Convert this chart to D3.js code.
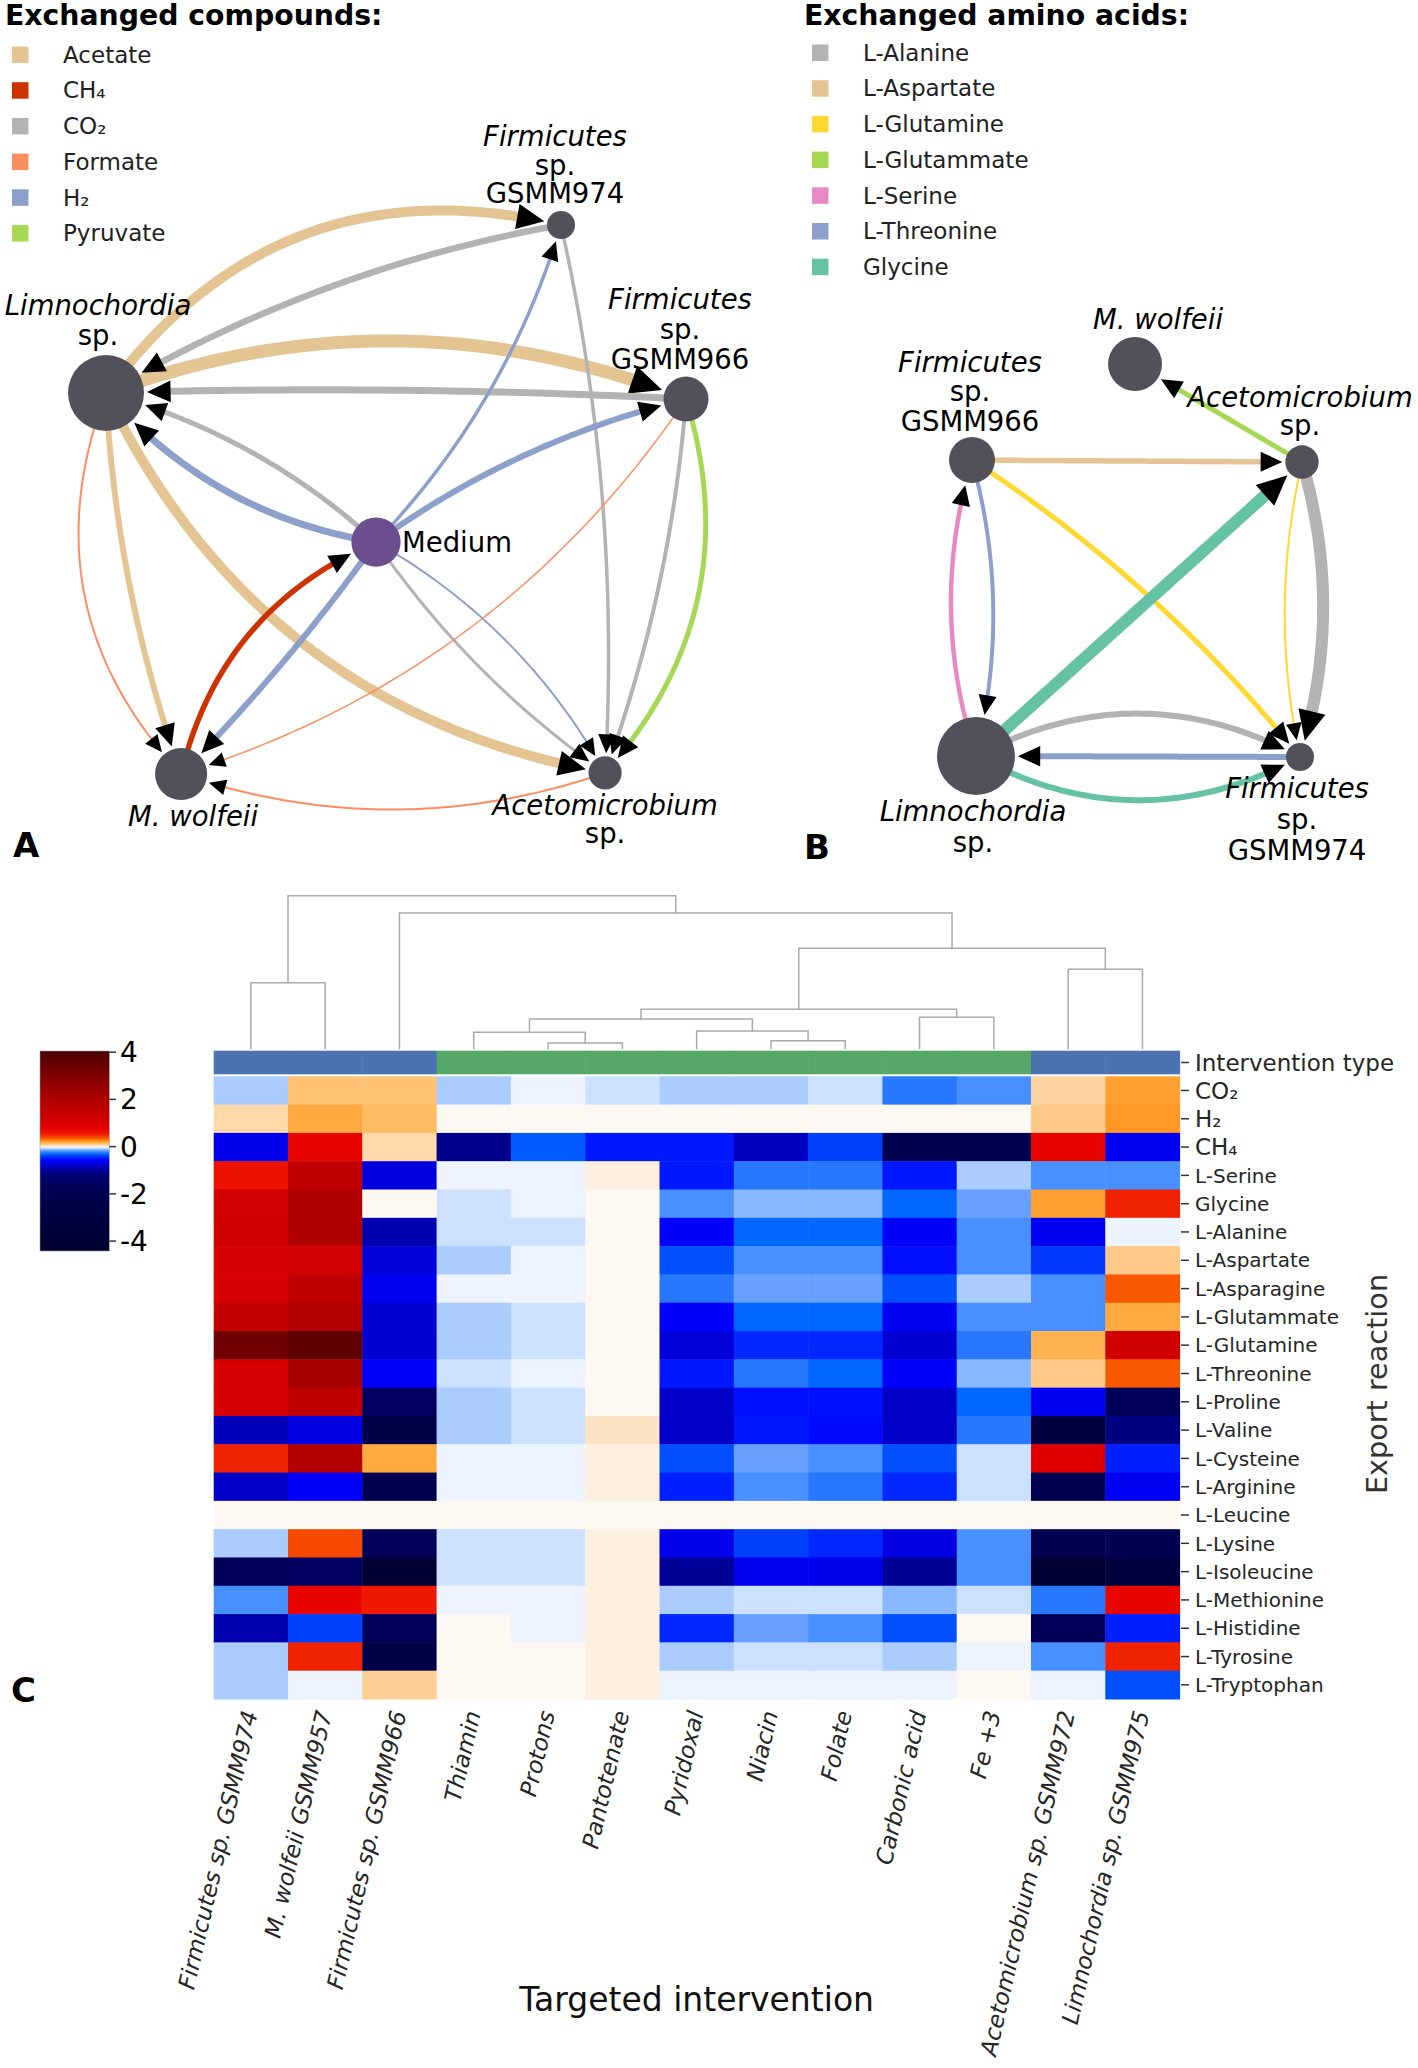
<!DOCTYPE html>
<html><head><meta charset="utf-8">
<script src="https://cdn.jsdelivr.net/npm/d3@7"></script>
<style>
body{margin:0;background:#fff}
svg{display:block}
text{font-family:"DejaVu Sans",sans-serif}
</style>
</head><body>
<svg id="fig" width="1418" height="2068"></svg>
<script>
// ---------------- DATA ----------------
const compounds = ["Acetate","CH\u2084","CO\u2082","Formate","H\u2082","Pyruvate"];
const compoundColors = ["#e5c494","#cc3300","#b3b3b3","#fc8d62","#8da0cb","#a6d854"];
const aminoAcids = ["L-Alanine","L-Aspartate","L-Glutamine","L-Glutammate","L-Serine","L-Threonine","Glycine"];
const aminoColors = ["#b3b3b3","#e5c494","#ffd92f","#a6d854","#e78ac3","#8da0cb","#66c2a5"];

// network A: layout coordinates (-1..1) and relative abundance
const nodesA = [
  {id:"Lim", x:-1.000, y:-0.388, size:100},
  {id:"F974", x:0.569, y:-1.000, size:13.6},
  {id:"F966", x:1.000, y:-0.366, size:35},
  {id:"Med", x:-0.069, y:0.155, size:42},
  {id:"Mw", x:-0.741, y:1.000, size:47},
  {id:"Ace", x:0.721, y:0.996, size:19}
];
// source, target, compound, flux, bend
const edgesA = [
  ["Lim","F974","Acetate",10,-0.33],
  ["Lim","F966","Acetate",13,-0.19],
  ["Lim","Mw","Acetate",6,0.072],
  ["Lim","Ace","Acetate",10,0.255],
  ["F974","Lim","CO\u2082",6.5,0.09],
  ["F966","Lim","CO\u2082",7,0.02],
  ["Med","Lim","CO\u2082",5,0.12],
  ["F974","Ace","CO\u2082",3.5,-0.07],
  ["F966","Ace","CO\u2082",4,-0.068],
  ["Med","Ace","CO\u2082",3,0.09],
  ["Med","F974","H\u2082",3.5,0.12],
  ["Med","F966","H\u2082",6,-0.097],
  ["Med","Lim","H\u2082",7,-0.18],
  ["Med","Mw","H\u2082",6,-0.04],
  ["Med","Ace","H\u2082",2,-0.14],
  ["Mw","Med","CH\u2084",5.5,-0.25],
  ["Lim","Mw","Formate",2,0.31],
  ["F966","Mw","Formate",1.5,-0.175],
  ["Ace","Mw","Formate",2,-0.17],
  ["F966","Ace","Pyruvate",5,-0.28]
];

// network B
const nodesB = [
  {id:"Mw", x:-0.012, y:-1.000, size:50.5},
  {id:"Ace", x:1.000, y:-0.501, size:19.3},
  {id:"F966", x:-1.000, y:-0.511, size:36.6},
  {id:"Lim", x:-0.976, y:0.995, size:105},
  {id:"F974", x:0.988, y:1.000, size:13.6}
];
const edgesB = [
  ["Ace","Mw","L-Glutammate",5,0],
  ["F966","Ace","L-Aspartate",5.5,0],
  ["F966","F974","L-Glutamine",5,-0.08],
  ["Lim","Ace","Glycine",12,0],
  ["Lim","F966","L-Serine",4.5,-0.155],
  ["F966","Lim","L-Threonine",4,-0.13],
  ["Ace","F974","L-Glutamine",2,0.11],
  ["Ace","F974","L-Alanine",12,-0.15],
  ["Lim","F974","L-Alanine",6,-0.265],
  ["F974","Lim","L-Threonine",6,0],
  ["Lim","F974","Glycine",6,0.27]
];

// heatmap
const interventions = ["Firmicutes sp. GSMM974","M. wolfeii GSMM957","Firmicutes sp. GSMM966","Thiamin","Protons","Pantotenate","Pyridoxal","Niacin","Folate","Carbonic acid","Fe +3","Acetomicrobium sp. GSMM972","Limnochordia sp. GSMM975"];
const interventionType = ["Organism","Organism","Organism","Metabolite","Metabolite","Metabolite","Metabolite","Metabolite","Metabolite","Metabolite","Metabolite","Organism","Organism"];
const exportReactions = ["CO\u2082","H\u2082","CH\u2084","L-Serine","Glycine","L-Alanine","L-Aspartate","L-Asparagine","L-Glutammate","L-Glutamine","L-Threonine","L-Proline","L-Valine","L-Cysteine","L-Arginine","L-Leucine","L-Lysine","L-Isoleucine","L-Methionine","L-Histidine","L-Tyrosine","L-Tryptophan"];
const heatValues = [
  [-0.1, 0.12, 0.12, -0.1, -0.02, -0.06, -0.1, -0.1, -0.06, -0.26, -0.2, 0.06, 0.2],
  [0.05, 0.18, 0.14, 0, 0, 0, 0, 0, 0, 0, 0, 0.1, 0.22],
  [-0.66, 0.75, 0.05, -1.07, -0.34, -0.5, -0.5, -0.83, -0.4, -2.0, -2.0, 0.75, -0.63],
  [0.62, 1.6, -0.71, -0.02, -0.02, 0.01, -0.5, -0.26, -0.26, -0.5, -0.1, -0.2, -0.2],
  [1.15, 2.0, 0, -0.06, -0.02, 0, -0.2, -0.13, -0.13, -0.32, -0.16, 0.2, 0.52],
  [1.2, 2.0, -0.9, -0.06, -0.06, 0, -0.58, -0.32, -0.32, -0.6, -0.2, -0.63, -0.02],
  [1.05, 1.15, -0.73, -0.1, -0.02, 0, -0.36, -0.2, -0.2, -0.53, -0.2, -0.42, 0.1],
  [1.05, 1.6, -0.63, -0.02, -0.02, 0, -0.26, -0.16, -0.16, -0.36, -0.1, -0.2, 0.35],
  [1.5, 1.9, -0.76, -0.1, -0.06, 0, -0.58, -0.32, -0.32, -0.63, -0.2, -0.2, 0.18],
  [3.3, 3.6, -0.76, -0.1, -0.06, 0, -0.73, -0.46, -0.46, -0.76, -0.26, 0.16, 1.2],
  [1.05, 2.25, -0.58, -0.06, -0.02, 0, -0.5, -0.26, -0.32, -0.58, -0.13, 0.1, 0.35],
  [1.05, 1.6, -1.5, -0.1, -0.06, 0, -0.8, -0.53, -0.53, -0.8, -0.32, -0.63, -1.75],
  [-0.86, -0.7, -2.5, -0.1, -0.06, 0.03, -0.8, -0.5, -0.55, -0.8, -0.26, -3.0, -1.13],
  [0.52, 1.85, 0.18, -0.02, -0.02, 0.01, -0.36, -0.16, -0.2, -0.36, -0.06, 0.9, -0.48],
  [-0.8, -0.58, -2.0, -0.02, -0.02, 0.01, -0.48, -0.2, -0.26, -0.46, -0.06, -2.0, -0.63],
  [0, 0, 0, 0, 0, 0, 0, 0, 0, 0, 0, 0, 0],
  [-0.1, 0.4, -1.75, -0.06, -0.06, 0.01, -0.66, -0.4, -0.46, -0.7, -0.2, -2.0, -2.0],
  [-1.75, -1.5, -4.2, -0.06, -0.06, 0.01, -1.0, -0.63, -0.66, -1.0, -0.2, -4.2, -3.0],
  [-0.2, 0.75, 0.55, -0.02, -0.02, 0.01, -0.1, -0.06, -0.06, -0.13, -0.06, -0.26, 0.75],
  [-0.9, -0.4, -1.75, 0, -0.02, 0.01, -0.46, -0.16, -0.2, -0.36, 0, -1.75, -0.48],
  [-0.1, 0.52, -2.5, 0, 0, 0.01, -0.1, -0.06, -0.06, -0.1, -0.02, -0.2, 0.52],
  [-0.1, -0.02, 0.08, 0, 0, 0.01, -0.02, -0.02, -0.02, -0.02, 0, -0.02, -0.36]
];
// column dendrogram linkage: [childA, childB, height]; leaves 0..12, merges get ids 13..
const linkage = [
  [7, 8, 0.56],
  [4, 5, 0.41],
  [3, 14, 1.11],
  [6, 13, 1.19],
  [15, 16, 1.97],
  [9, 10, 2.08],
  [17, 18, 2.60],
  [11, 12, 5.21],
  [19, 20, 6.58],
  [0, 1, 4.34],
  [2, 21, 8.87],
  [22, 23, 10.0]
];
const colorbarTicks = [4, 2, 0, -2, -4];

// ---------------- STYLE ----------------
const cmapVals=[-4.42,-3,-2,-1.5,-1.2,-1,-0.9,-0.8,-0.7,-0.58,-0.5,-0.46,-0.42,-0.36,-0.32,-0.26,-0.2,-0.16,-0.13,-0.1,-0.06,-0.02,0,0.02,0.05,0.1,0.15,0.2,0.28,0.35,0.45,0.55,0.8,1.2,2,3,4.05];
const cmapCols=["#000030","#000040","#000050","#000060","#000078","#000098","#0000b0","#0000c8","#0000e0","#0000ff","#0018ff","#0028ff","#0038ff","#0050ff","#0068ff","#2878ff","#4890ff","#68a0ff","#88b8ff","#aaccff","#cce0ff","#eef4ff","#fdf8f2","#fde8d0","#fdd8a8","#ffc988","#ffb858","#ffa030","#ff8000","#f85800","#f43800","#ee1800","#e60000","#d00000","#b00000","#800000","#4a0000"];
const cmap = d3.scaleLinear().domain(cmapVals).range(cmapCols).interpolate(d3.interpolateRgb).clamp(true);
const typeColor = d3.scaleOrdinal().domain(["Organism","Metabolite"]).range(["#4c72b0","#55a868"]);

const labelStyleA = {
  Lim:{lines:[["Limnochordia",1],["sp.",0]], dx:-8, dy:-78, lh:30},
  F974:{lines:[["Firmicutes",1],["sp.",0],["GSMM974",0]], dx:-6, dy:-79, lh:28.5},
  F966:{lines:[["Firmicutes",1],["sp.",0],["GSMM966",0]], dx:-6, dy:-90.5, lh:30},
  Med:{lines:[["Medium",0]], dx:26, dy:10, lh:0, anchor:"start"},
  Mw:{lines:[["M. wolfeii",1]], dx:12, dy:52, lh:0},
  Ace:{lines:[["Acetomicrobium",1],["sp.",0]], dx:0, dy:42, lh:28}
};
const labelStyleB = {
  Mw:{lines:[["M. wolfeii",1]], dx:23, dy:-35.5, lh:0},
  F966:{lines:[["Firmicutes",1],["sp.",0],["GSMM966",0]], dx:-2, dy:-88.5, lh:29.5},
  Ace:{lines:[["Acetomicrobium",1],["sp.",0]], dx:-2, dy:-55.5, lh:28.5},
  Lim:{lines:[["Limnochordia",1],["sp.",0]], dx:-3, dy:64.5, lh:31},
  F974:{lines:[["Firmicutes",1],["sp.",0],["GSMM974",0]], dx:-3, dy:40.5, lh:31}
};

const svg = d3.select("#fig");
svg.append("rect").attr("width",1418).attr("height",2068).attr("fill","#fff");

// ---------------- LEGENDS ----------------
function legend(x0, title, names, colors, x1, lx, yc0){
  const g = svg.append("g");
  g.append("text").attr("x",x0).attr("y",25).attr("font-size",28.3).attr("font-weight","bold").attr("fill","#000").text(title);
  const ys = d3.scalePoint().domain(names).range([yc0, yc0 + 35.7*(names.length-1)]);
  names.forEach((n,i)=>{
    g.append("rect").attr("x",x1).attr("y",ys(n)-8).attr("width",16.5).attr("height",16.5).attr("fill",colors[i]);
    g.append("text").attr("x",lx).attr("y",ys(n)).attr("dy","0.36em").attr("font-size",23).attr("fill","#222").text(n);
  });
}
legend(5, "Exchanged compounds:", compounds, compoundColors, 12, 63, 54.5);
legend(804, "Exchanged amino acids:", aminoAcids, aminoColors, 812, 863, 52.5);

// ---------------- NETWORKS ----------------
const rScale = d3.scaleSqrt().domain([0,100]).range([0,38]);
const wScale = d3.scaleLinear().domain([0,10]).range([0,10]);

function drawNetwork(nodes, edges, colorScale, xs, ys, labelStyle){
  const g = svg.append("g");
  const pos = new Map(nodes.map(n=>[n.id,{x:xs(n.x), y:ys(n.y), r:rScale(n.size)}]));
  const dist=(p,q)=>Math.hypot(p[0]-q[0],p[1]-q[1]);
  const eg = g.append("g");
  edges.forEach(([s,t,c,flux,bend])=>{
    const a=pos.get(s), b=pos.get(t);
    const w=wScale(flux);
    const dx=b.x-a.x, dy=b.y-a.y, L=Math.hypot(dx,dy);
    const nx=-dy/L, ny=dx/L;
    const cx=(a.x+b.x)/2+bend*L*nx, cy=(a.y+b.y)/2+bend*L*ny;
    const B=u=>[(1-u)*(1-u)*a.x+2*(1-u)*u*cx+u*u*b.x,(1-u)*(1-u)*a.y+2*(1-u)*u*cy+u*u*b.y];
    const rt=b.r+3;
    let lo=0,hi=1;
    for(let i=0;i<40;i++){const m=(lo+hi)/2; if(dist(B(m),[b.x,b.y])>rt) lo=m; else hi=m;}
    const tTip=lo, tip=B(tTip);
    const al=14.5+1.3*w;
    lo=0;hi=tTip;
    for(let i=0;i<40;i++){const m=(lo+hi)/2; if(dist(B(m),tip)>al) lo=m; else hi=m;}
    const tBase=lo, base=B(tBase);
    const tEnd=tBase+(tTip-tBase)*0.35;
    const pts=d3.range(0,61).map(i=>B(tEnd*i/60));
    eg.append("path").attr("d",d3.line()(pts)).attr("fill","none")
      .attr("stroke",colorScale(c)).attr("stroke-width",w).attr("stroke-linecap","butt");
    const ux=(tip[0]-base[0])/al, uy=(tip[1]-base[1])/al;
    const hw=Math.max(al*0.46, w/2+3);
    const p1=[base[0]-uy*hw, base[1]+ux*hw], p2=[base[0]+uy*hw, base[1]-ux*hw];
    eg.append("path").attr("d",`M${tip[0]},${tip[1]}L${p1[0]},${p1[1]}L${p2[0]},${p2[1]}Z`).attr("fill","#000");
  });
  const ng = g.append("g");
  nodes.forEach(n=>{
    const p=pos.get(n.id);
    ng.append("circle").attr("cx",p.x).attr("cy",p.y).attr("r",p.r).attr("fill", n.id==="Med" ? "#6b4e8e" : "#515259");
  });
  const lg = g.append("g");
  nodes.forEach(n=>{
    const p=pos.get(n.id), st=labelStyle[n.id];
    st.lines.forEach(([txt,it],i)=>{
      lg.append("text").attr("x",p.x+st.dx).attr("y",p.y+st.dy+i*st.lh)
        .attr("text-anchor",st.anchor||"middle").attr("font-size",27.5)
        .attr("font-style",it?"italic":"normal").attr("fill","#000").text(txt);
    });
  });
}
const xA = d3.scaleLinear().domain([-1,1]).range([106,686]);
const yA = d3.scaleLinear().domain([-1,1]).range([225,774]);
const xB = d3.scaleLinear().domain([-1,1]).range([972,1302]);
const yB = d3.scaleLinear().domain([-1,1]).range([364,757]);
drawNetwork(nodesA, edgesA, d3.scaleOrdinal().domain(compounds).range(compoundColors), xA, yA, labelStyleA);
drawNetwork(nodesB, edgesB, d3.scaleOrdinal().domain(aminoAcids).range(aminoColors), xB, yB, labelStyleB);

// panel letters
[["A",13,857],["B",804,859],["C",11,1702]].forEach(([t,x,y])=>{
  svg.append("text").attr("x",x).attr("y",y).attr("font-size",34).attr("font-weight","bold").attr("fill","#000").text(t);
});

// ---------------- HEATMAP ----------------
const hx = d3.scaleBand().domain(d3.range(interventions.length)).range([213.7,1179.6]);
const hy = d3.scaleBand().domain(exportReactions).range([1076.3,1699]);
const hg = svg.append("g");
heatValues.forEach((row,ri)=>{
  row.forEach((v,ci)=>{
    hg.append("rect").attr("x",hx(ci)).attr("y",hy(exportReactions[ri]))
      .attr("width",hx.bandwidth()+0.5).attr("height",hy.bandwidth()+0.5).attr("fill",cmap(v));
  });
});
// intervention type strip
interventionType.forEach((t,ci)=>{
  hg.append("rect").attr("x",hx(ci)).attr("y",1050.7).attr("width",hx.bandwidth()+0.5).attr("height",23.6).attr("fill",typeColor(t));
});
// row labels
const rowLabels = [{name:"Intervention type", y:1050.7+11.8, fs:23}].concat(exportReactions.map((r,i)=>({name:r, y:hy(r)+hy.bandwidth()/2, fs: i<3?23:20})));
rowLabels.forEach(d=>{
  hg.append("line").attr("x1",1181).attr("x2",1189).attr("y1",d.y).attr("y2",d.y).attr("stroke","#333").attr("stroke-width",1.5);
  hg.append("text").attr("x",1195).attr("y",d.y).attr("dy","0.36em").attr("font-size",d.fs).attr("fill","#262626").text(d.name);
});
// column labels
interventions.forEach((n,ci)=>{
  const cx = hx(ci)+hx.bandwidth()/2 + 7, cy = 1713;
  hg.append("text").attr("transform",`translate(${cx},${cy}) rotate(-77)`).attr("text-anchor","end")
    .attr("font-size",23).attr("font-style","italic").attr("fill","#262626").text(n);
});
hg.append("text").attr("x",(213.7+1179.6)/2).attr("y",2011).attr("text-anchor","middle").attr("font-size",33).attr("fill","#111").text("Targeted intervention");
hg.append("text").attr("transform","translate(1387,1384) rotate(-90)").attr("text-anchor","middle").attr("font-size",28.7).attr("fill","#333").text("Export reaction");

// dendrogram
const dy = d3.scaleLinear().domain([0,10]).range([1049.3,895.7]);
const nodeX = d3.range(interventions.length).map(i=>hx(i)+hx.bandwidth()/2);
const nodeH = d3.range(interventions.length).map(()=>0);
const dg = svg.append("g").attr("fill","none").attr("stroke","#aaaaaa").attr("stroke-width",1.5);
linkage.forEach(([a,b,h])=>{
  const xa=nodeX[a], xb=nodeX[b];
  dg.append("path").attr("d",`M${xa},${dy(nodeH[a])}V${dy(h)}H${xb}V${dy(nodeH[b])}`);
  nodeX.push((xa+xb)/2); nodeH.push(h);
});

// colorbar
const cbY = d3.scaleLinear().domain([-4.42,4.05]).range([1251,1051]);
const defs = svg.append("defs");
const grad = defs.append("linearGradient").attr("id","cbgrad").attr("x1",0).attr("y1",1).attr("x2",0).attr("y2",0);
d3.range(0,401).forEach(i=>{
  const v = -4.42 + (4.05+4.42)*i/400;
  grad.append("stop").attr("offset",(i/400)).attr("stop-color",cmap(v));
});
svg.append("rect").attr("x",40).attr("y",1051).attr("width",69.3).attr("height",200).attr("fill","url(#cbgrad)").attr("stroke","#999").attr("stroke-width",0.6);
colorbarTicks.forEach(t=>{
  svg.append("line").attr("x1",109.3).attr("x2",116).attr("y1",cbY(t)).attr("y2",cbY(t)).attr("stroke","#333").attr("stroke-width",1.5);
  svg.append("text").attr("x",120).attr("y",cbY(t)).attr("dy","0.36em").attr("font-size",28).attr("fill","#000").text(String(t));
});
</script>
</body></html>
